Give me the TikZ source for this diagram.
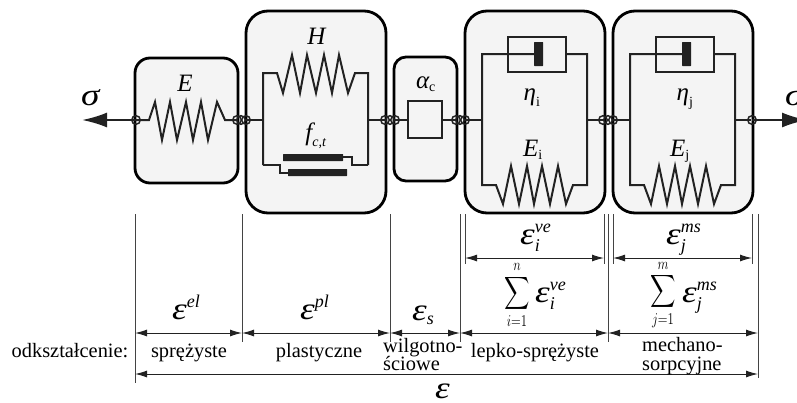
\documentclass[tikz,border=0pt]{standalone}
\usepackage{fix-cm}
\usepackage{amsmath}
\usepackage{fontspec}
\setmainfont{Liberation Serif}
\usetikzlibrary{arrows.meta}
\DeclareMathSizes{25}{25}{14}{10}
\DeclareMathSizes{31}{31}{18}{12}
\DeclareMathSizes{22}{22}{15}{10}
\definecolor{boxgray}{HTML}{F4F4F4}
\definecolor{inkgray}{HTML}{222222}
\tikzset{
  elembox/.style={draw=black,line width=2.8pt,fill=boxgray},
  wire/.style={draw=inkgray,line width=2pt},
  joint/.style={draw=inkgray,line width=1.5pt},
  bar/.style={fill=inkgray,rounded corners=0.5pt},
  guide/.style={draw=inkgray!85,line width=0.9pt},
  dimline/.style={draw=inkgray,line width=1pt,{Latex[length=12pt,width=7pt]}-{Latex[length=12pt,width=7pt]}},
  loadarrow/.style={draw=inkgray,line width=2pt,-{Latex[length=25pt,width=15pt]}},
  lab/.style={inner sep=0pt,anchor=base,font=\fontsize{20.4}{20.4}\selectfont},
  sym/.style={inner sep=0pt,anchor=base,font=\fontsize{25}{25}\selectfont},
  eps/.style={inner sep=0pt,anchor=base west,font=\fontsize{31}{31}\selectfont},
  sumsign/.style={inner sep=0pt,anchor=center,font=\fontsize{22}{22}\selectfont},
}
\newcommand{\eps}{\mathord{\scalebox{1.2}[1]{\textit{ε}}}}
\newcommand{\sumsym}[2]{\scalebox{.85}[1.1]{$\displaystyle\sum_{#1}^{#2}$}}
\begin{document}
\begin{tikzpicture}[x=1pt,y=-1pt]
\useasboundingbox (0,0) rectangle (797,402);
\clip (0,0) rectangle (797,402);

% element boxes
\draw[elembox,rounded corners=15pt] (135,58) rectangle (238,183);
\draw[elembox,rounded corners=22pt] (246,11) rectangle (386,213);
\draw[elembox,rounded corners=12pt] (394,57) rectangle (457,181);
\draw[elembox,rounded corners=22pt] (465,11) rectangle (605,213);
\draw[elembox,rounded corners=22pt] (613,11) rectangle (753,213);

% load arrows
\draw[loadarrow] (136,120) -- (82,120);
\draw[loadarrow] (752,120) -- (807,120);

% E
\draw[wire] (136,120) -- (149,120) -- (155,102) -- (162,140) -- (170,102) -- (177,140) -- (186,102) -- (193,140) -- (201,102) -- (208,140) -- (217,102) -- (225,120) -- (237,120);

% H
\draw[wire] (246,120) -- (263,120);
\draw[wire] (385,120) -- (368,120);
\draw[wire] (263,165) -- (263,73) -- (277,73) -- (283,93) -- (292,55) -- (300,93) -- (307,55) -- (316,93) -- (324,55) -- (332,93) -- (339,55) -- (348,93) -- (355,73) -- (368,73) -- (368,165);
% friction
\draw[wire] (263,165) -- (280,165) -- (280,173) -- (288,173);
\draw[wire] (343,157) -- (352,157) -- (352,165) -- (368,165);
\fill[bar] (283,154) rectangle (343,161);
\fill[bar] (288,169) rectangle (347,176);

% alpha
\draw[wire] (395,120) -- (408,120);
\draw[wire] (442,120) -- (456,120);
\draw[wire] (408,101) rectangle (442,138);

% i and j
\foreach \shift in {0,148} {
\begin{scope}[xshift=\shift pt]
\draw[wire] (465,120) -- (482,120);
\draw[wire] (587,120) -- (603,120);
\draw[wire] (508,37) rectangle (566,72);
\draw[wire] (534,54) -- (482,54) -- (482,185) -- (496,185) -- (503,204) -- (511,166) -- (519,204) -- (527,166) -- (534,204) -- (542,166) -- (550,204) -- (558,166) -- (566,204) -- (573,185) -- (587,185) -- (587,54) -- (566,54);
\fill[bar] (534,42) rectangle (543,66);
\end{scope}
}

% joints
\foreach \jx in {136,237,241,246,385,390,395,456,460,465,603,608,613,752} {
\draw[joint] (\jx,120) circle (4.3pt);
}

% guide lines
\foreach \gx/\gend in {135/383,242/342,390/342,460/342,465/264,604/264,608/342,613/264,752/264,758/378} {
\draw[guide] (\gx,214) -- (\gx,\gend);
}

% dimension arrows
\coordinate (a0) at (135,333);
\coordinate (a1) at (242,333);
\coordinate (a2) at (390,333);
\coordinate (a3) at (460,333);
\coordinate (a4) at (608,333);
\coordinate (a5) at (758,333);
\draw[dimline] (a0) -- (a1);
\draw[dimline] (a1) -- (a2);
\draw[dimline] (a2) -- (a3);
\draw[dimline] (a3) -- (a4);
\draw[dimline] (a4) -- (a5);
\coordinate (b0) at (465,258);
\coordinate (b1) at (604,258);
\coordinate (b2) at (613,258);
\coordinate (b3) at (752,258);
\draw[dimline] (b0) -- (b1);
\draw[dimline] (b2) -- (b3);
\coordinate (c0) at (135,374);
\coordinate (c1) at (758,374);
\draw[dimline] (c0) -- (c1);

% symbols in the boxes
\node[eps] (sigmaleft) at (81,105) {\scalebox{1.2}[1]{\textit{σ}}};
\node[eps] (sigmaright) at (785,105) {\scalebox{1.2}[1]{\textit{σ}}};
\node[sym] (labE) at (185,91) {\textit{E}};
\node[sym] (labH) at (317,44) {\textit{H}};
\node[sym] (labf) at (316,140) {$\textit{f}_{\textit{c,t}}$};
\node[sym] (labalpha) at (426,88) {$\textit{α}_{\textrm{c}}$};
\node[sym] (labetai) at (532,100) {$\textit{η}_{\textrm{i}}$};
\node[sym] (labEi) at (533,156) {$\textit{E}_{\textrm{i}}$};
\node[sym] (labetaj) at (685,100) {$\textit{η}_{\textrm{j}}$};
\node[sym] (labEj) at (680,156) {$\textit{E}_{\textrm{j}}$};

% strain symbols
\node[eps] (epsel) at (172,319) {$\eps^{\textit{el}}$};
\node[eps] (epspl) at (300,319) {$\eps^{\textit{pl}}$};
\node[eps] (epss) at (412,320) {$\eps_{\textit{s}}$};
\node[eps] (epsve) at (520,244) {$\eps_{\textit{i}}^{\textit{ve}}$};
\node[eps] (epsms) at (666,244) {$\eps_{\textit{j}}^{\textit{ms}}$};
\node[sumsign] (sumi) at (517,295) {\sumsym{i=1}{n}};
\node[eps] (sumve) at (535,302) {$\eps_{\textit{i}}^{\textit{ve}}$};
\node[sumsign] (sumj) at (663,295) {\sumsym{j=1}{m}};
\node[eps] (summs) at (682,302) {$\eps_{\textit{j}}^{\textit{ms}}$};
\node[eps] (epsall) at (435,398) {$\eps$};

% texts
\node[lab] (lab0) at (70,357) {odkształcenie:};
\node[lab] (lab1) at (189,357) {sprężyste};
\node[lab] (lab2) at (319,357) {plastyczne};
\node[lab,anchor=base west] (lab3) at (383,352) {wilgotno-};
\node[lab,anchor=base west] (lab4) at (383,370) {ściowe};
\node[lab] (lab5) at (535,357) {lepko-sprężyste};
\node[lab,anchor=base west] (lab6) at (642,351) {mechano-};
\node[lab,anchor=base west] (lab7) at (642,370) {sorpcyjne};
\end{tikzpicture}
\end{document}
